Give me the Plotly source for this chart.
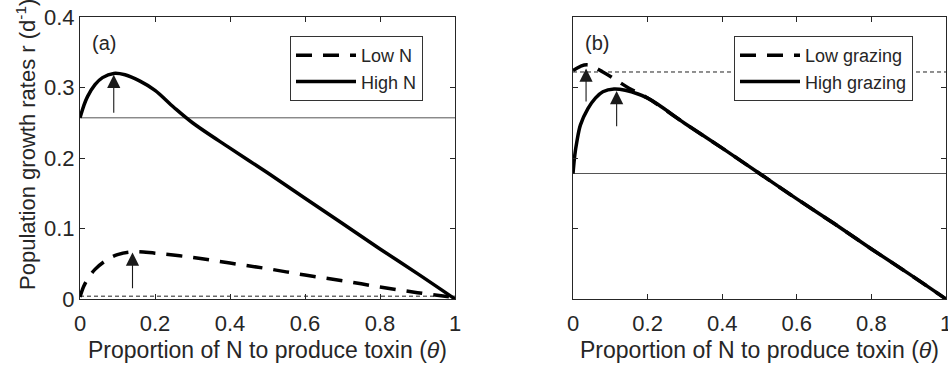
import plotly.graph_objects as go

# ---------------- data ----------------
# Panel (a)
theta_lowN = [0, 0.01, 0.02, 0.04, 0.07, 0.10, 0.14, 0.20, 0.30, 0.40, 0.50, 0.60, 0.70, 0.80, 0.90, 1.00]
r_lowN = [0.003, 0.018, 0.028, 0.042, 0.055, 0.063, 0.067, 0.065, 0.059, 0.051, 0.043, 0.034, 0.026, 0.017, 0.009, 0.002]
theta_highN = [0, 0.01, 0.02, 0.04, 0.06, 0.09, 0.12, 0.16, 0.20, 0.25, 0.30, 0.40, 0.50, 0.60, 0.70, 0.80, 0.90, 1.00]
r_highN = [0.257, 0.274, 0.287, 0.304, 0.314, 0.320, 0.318, 0.309, 0.296, 0.272, 0.250, 0.214, 0.179, 0.143, 0.107, 0.071, 0.036, 0.0]
ref_a_solid = 0.257
ref_a_dashed = 0.004
arrows_a_theta = [0.09, 0.14]
arrows_a_base = [0.262, 0.013]
arrows_a_tip = [0.318, 0.066]

# Panel (b)
theta_lowG = [0, 0.02, 0.04, 0.08, 0.12, 0.15, 0.20, 0.30, 0.40, 0.50, 0.60, 0.70, 0.80, 0.90, 1.00]
r_lowG = [0.324, 0.330, 0.332, 0.322, 0.309, 0.299, 0.285, 0.249, 0.214, 0.178, 0.142, 0.107, 0.071, 0.036, 0.0]
theta_highG = [0, 0.005, 0.01, 0.02, 0.04, 0.06, 0.08, 0.11, 0.14, 0.20, 0.30, 0.40, 0.50, 0.60, 0.70, 0.80, 0.90, 1.00]
r_highG = [0.178, 0.205, 0.222, 0.247, 0.270, 0.285, 0.294, 0.298, 0.296, 0.285, 0.249, 0.214, 0.178, 0.142, 0.107, 0.071, 0.036, 0.0]
ref_b_solid = 0.178
ref_b_dashed = 0.322
arrows_b_theta = [0.035, 0.117]
arrows_b_base = [0.278, 0.243]
arrows_b_tip = [0.327, 0.295]

x_ticks = [0, 0.2, 0.4, 0.6, 0.8, 1]
x_ticklabels = ["0", "0.2", "0.4", "0.6", "0.8", "1"]
y_ticks = [0, 0.1, 0.2, 0.3, 0.4]
y_ticklabels = ["0", "0.1", "0.2", "0.3", "0.4"]

# ---------------- figure ----------------
W, H = 948, 372
TXT = "#262626"
FONT = "Liberation Sans, Arial, Helvetica, sans-serif"
TICK_SIZE = 22
TITLE_SIZE = 23

fig = go.Figure()

# reference lines panel a
fig.add_trace(go.Scatter(x=[0, 1], y=[ref_a_solid, ref_a_solid], mode="lines",
                         line=dict(color="#555555", width=1), showlegend=False,
                         xaxis="x", yaxis="y", hoverinfo="skip"))
fig.add_trace(go.Scatter(x=[0, 1], y=[ref_a_dashed, ref_a_dashed], mode="lines",
                         line=dict(color="#222222", width=1, dash="4px,3px"), showlegend=False,
                         xaxis="x", yaxis="y", hoverinfo="skip"))
# panel a curves
fig.add_trace(go.Scatter(x=theta_lowN, y=r_lowN, mode="lines", name="Low N",
                         line=dict(color="black", width=3.5, dash="16px,11px", shape="spline"),
                         xaxis="x", yaxis="y", legend="legend"))
fig.add_trace(go.Scatter(x=theta_highN, y=r_highN, mode="lines", name="High N",
                         line=dict(color="black", width=3.5, shape="spline"),
                         xaxis="x", yaxis="y", legend="legend"))

# reference lines panel b
fig.add_trace(go.Scatter(x=[0, 1], y=[ref_b_solid, ref_b_solid], mode="lines",
                         line=dict(color="#555555", width=1), showlegend=False,
                         xaxis="x2", yaxis="y2", hoverinfo="skip"))
fig.add_trace(go.Scatter(x=[0, 1], y=[ref_b_dashed, ref_b_dashed], mode="lines",
                         line=dict(color="#222222", width=1, dash="4px,3px"), showlegend=False,
                         xaxis="x2", yaxis="y2", hoverinfo="skip"))
# panel b curves
fig.add_trace(go.Scatter(x=theta_lowG, y=r_lowG, mode="lines", name="Low grazing",
                         line=dict(color="black", width=3.5, dash="16px,11px", shape="spline"),
                         xaxis="x2", yaxis="y2", legend="legend2"))
fig.add_trace(go.Scatter(x=theta_highG, y=r_highG, mode="lines", name="High grazing",
                         line=dict(color="black", width=3.5, shape="spline"),
                         xaxis="x2", yaxis="y2", legend="legend2"))

annotations = []
for xs, base, tip, xr, yr in [(arrows_a_theta, arrows_a_base, arrows_a_tip, "x", "y"),
                              (arrows_b_theta, arrows_b_base, arrows_b_tip, "x2", "y2")]:
    for t, b, p in zip(xs, base, tip):
        annotations.append(dict(x=t, y=p, ax=t, ay=b, xref=xr, yref=yr, axref=xr, ayref=yr,
                                text="", showarrow=True, arrowhead=2, arrowsize=2.4,
                                arrowwidth=1.1, arrowcolor="#1a1a1a", standoff=0))

annotations.append(dict(x=0.026, y=0.363, xref="x", yref="y", text="(a)", showarrow=False,
                        xanchor="left", yanchor="middle", font=dict(size=20, color=TXT, family=FONT)))
annotations.append(dict(x=0.026, y=0.363, xref="x2", yref="y2", text="(b)", showarrow=False,
                        xanchor="left", yanchor="middle", font=dict(size=20, color=TXT, family=FONT)))
# y-axis title (as rotated text, placed like the reference)
annotations.append(dict(x=26 / W, y=1 - 145 / H, xref="paper", yref="paper",
                        text="Population growth rates r (d<sup>-1</sup>)", showarrow=False,
                        textangle=-90, xanchor="center", yanchor="middle",
                        font=dict(size=22, color=TXT, family=FONT)))

def xaxis_style(domain, anchor):
    return dict(domain=domain, anchor=anchor, range=[0, 1], tickvals=x_ticks, ticktext=x_ticklabels,
                ticks="inside", ticklen=5, tickcolor=TXT, showline=True, linecolor=TXT, linewidth=1,
                mirror="ticks", showgrid=False, zeroline=False, ticklabelstandoff=5,
                ticklabeloverflow="allow",
                tickfont=dict(size=TICK_SIZE, color=TXT, family=FONT),
                title=dict(text="Proportion of N to produce toxin (<i>θ</i>)",
                           font=dict(size=TITLE_SIZE, color=TXT, family=FONT), standoff=6),
                automargin=False)

def yaxis_style(anchor, labels):
    return dict(anchor=anchor, domain=[73 / H, 1 - 17 / H], range=[0, 0.4], tickvals=y_ticks,
                ticktext=y_ticklabels, showticklabels=labels, ticklabeloverflow="allow",
                ticks="inside", ticklen=5, tickcolor=TXT, showline=True, linecolor=TXT, linewidth=1,
                mirror="ticks", showgrid=False, zeroline=False,
                tickfont=dict(size=TICK_SIZE, color=TXT, family=FONT), automargin=False)

legend_common = dict(bgcolor="white", bordercolor="#333333", borderwidth=1,
                     font=dict(size=18, color=TXT, family=FONT), xanchor="left", yanchor="top",
                     itemwidth=60, tracegroupgap=0)

fig.update_layout(
    width=W, height=H,
    margin=dict(l=0, r=0, t=0, b=0, pad=0),
    paper_bgcolor="white", plot_bgcolor="white",
    font=dict(family=FONT, color=TXT),
    xaxis=xaxis_style([80 / W, 455 / W], "y"),
    yaxis=yaxis_style("x", True),
    xaxis2=xaxis_style([573 / W, 946 / W], "y2"),
    yaxis2=yaxis_style("x2", False),
    legend=dict(x=290 / W, y=1 - 36 / H, **legend_common),
    legend2=dict(x=734 / W, y=1 - 36 / H, **legend_common),
    annotations=annotations,
    showlegend=True,
)

fig.write_html("out.html", config={"displayModeBar": False},
               post_script="document.body.style.margin='0px';document.body.style.overflow='hidden';")
